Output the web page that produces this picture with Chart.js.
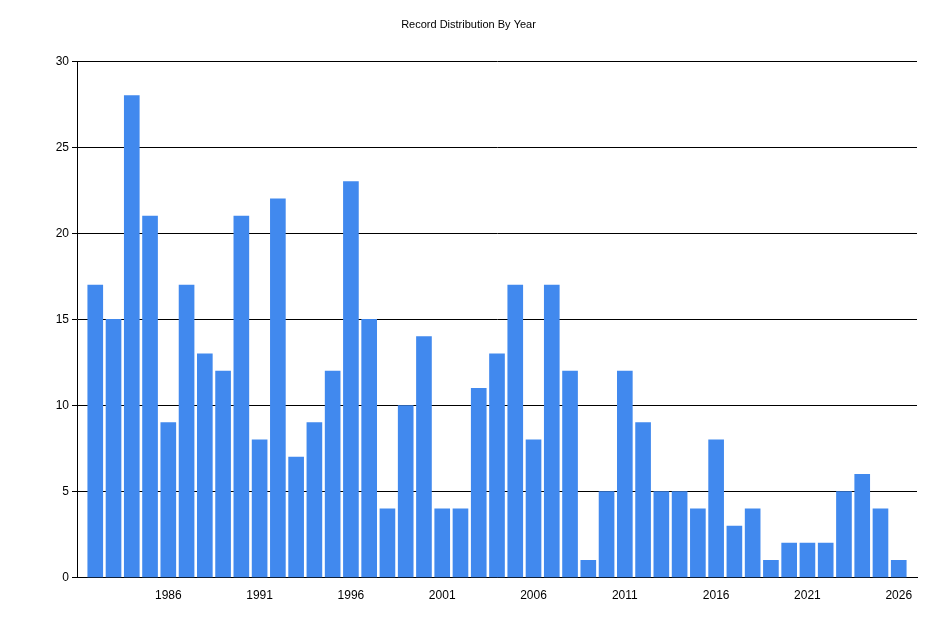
<!DOCTYPE html>
<html><head><script src="https://cdn.jsdelivr.net/npm/chart.js@4"></script>
<style>body{margin:0;background:#fff}#w{width:945px;height:630px}</style></head>
<body><div id="w"><canvas id="c"></canvas></div>
<script>
const years=[];for(let y=1982;y<=2026;y++)years.push(y);
const counts=[17,15,28,21,9,17,13,12,21,8,22,7,9,12,23,15,4,10,14,4,4,11,13,17,8,17,12,1,5,12,9,5,5,4,8,3,4,1,2,2,2,5,6,4,1];
const yTicks=[0,5,10,15,20,25,30];
const xTicks=[1986,1991,1996,2001,2006,2011,2016,2021,2026];
new Chart(document.getElementById('c'),{type:'bar',
data:{datasets:[{data:years.map((y,i)=>({x:y,y:counts[i]})),backgroundColor:'#4189EE',barThickness:15}]},
options:{responsive:true,maintainAspectRatio:false,animation:false,
layout:{padding:{left:20,right:28,top:0,bottom:24}},
plugins:{legend:{display:false},tooltip:{enabled:false},
title:{display:true,text:'Record Distribution By Year',color:'#000',font:{family:'Liberation Sans',size:11,weight:'normal'},padding:{top:18,bottom:30}}},
scales:{
x:{type:'linear',min:1981,max:2027,offset:false,afterBuildTicks:a=>{a.ticks=xTicks.map(v=>({value:v}));},
grid:{display:false},border:{color:'#000'},
ticks:{color:'#000',font:{family:'Liberation Sans',size:12},autoSkip:false,maxRotation:0,callback:v=>String(v)}},
y:{min:0,max:30,afterBuildTicks:a=>{a.ticks=yTicks.map(v=>({value:v}));},afterFit:a=>{a.width=57;},
grid:{color:'#000',tickLength:5},border:{color:'#000'},
ticks:{color:'#000',font:{family:'Liberation Sans',size:12}}}}}});
</script></body></html>
